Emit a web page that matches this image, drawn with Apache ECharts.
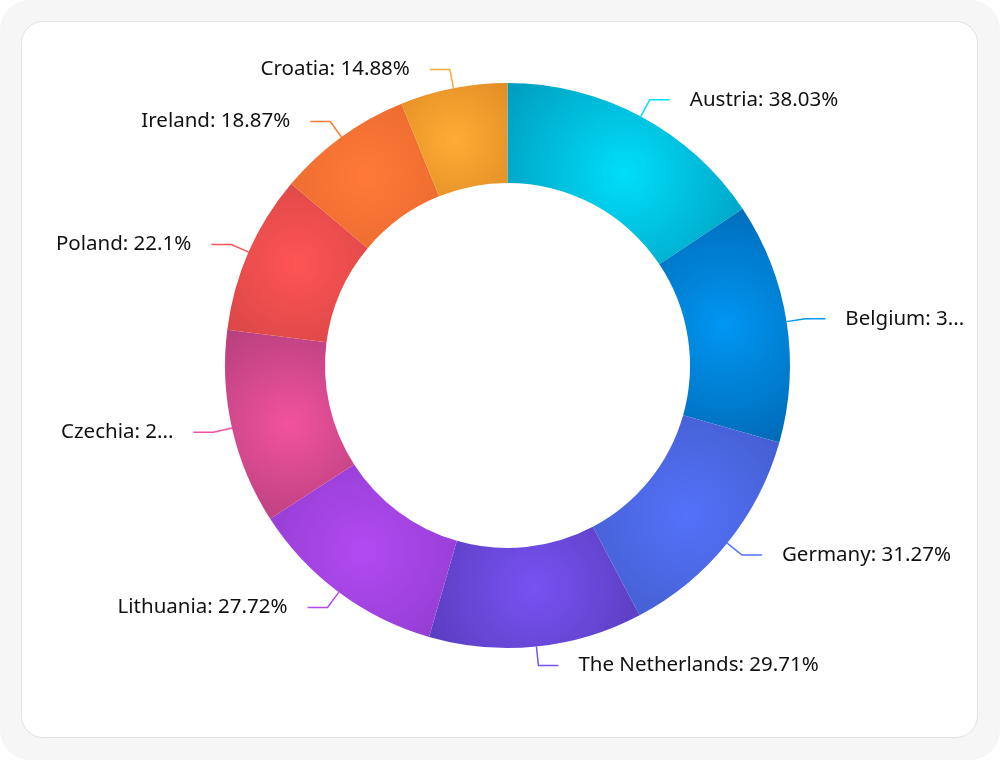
<!DOCTYPE html>
<html>
<head>
<meta charset="utf-8">
<script src="https://cdn.jsdelivr.net/npm/echarts@6/dist/echarts.min.js"></script>
<style>
  html, body { margin: 0; padding: 0; background: #ffffff; }
  #frame { position: absolute; left: 0; top: 0; width: 1000px; height: 760px; background: #f6f6f6; border-radius: 30px; }
  #panel { position: absolute; left: 21px; top: 21px; width: 955px; height: 715px; background: #ffffff; border: 1.5px solid #e2e2e2; border-radius: 22px; }
  #chart { position: absolute; left: 0; top: 0; width: 1000px; height: 760px; }
</style>
</head>
<body>
<div id="frame"></div>
<div id="panel"></div>
<div id="chart"></div>
<script>
const countries = ['Austria', 'Belgium', 'Germany', 'The Netherlands', 'Lithuania', 'Czechia', 'Poland', 'Ireland', 'Croatia'];
const values = [38.03, 33.41, 31.27, 29.71, 27.72, 27.08, 22.1, 18.87, 14.88];
const baseColors = ['#00def9', '#0096f3', '#5472fa', '#7852f2', '#b24af3', '#f2529f', '#ff5454', '#ff7a38', '#ffac36'];
const edgeColors = ['#0090b4', '#006cb8', '#3d55bc', '#5a3ec0', '#8638c2', '#b03e7a', '#cc4242', '#e0622a', '#d88420'];

const data = countries.map((name, i) => ({
  name: name,
  value: values[i],
  itemStyle: {
    color: {
      type: 'radial', x: 0.5, y: 0.5, r: 0.95,
      colorStops: [
        { offset: 0, color: baseColors[i] },
        { offset: 1, color: edgeColors[i] }
      ]
    }
  },
  labelLine: { lineStyle: { color: baseColors[i], width: 1.5 } }
}));

const chart = echarts.init(document.getElementById('chart'));
const L = 45, T = 40;
chart.setOption({
  animation: false,
  series: [{
    type: 'pie',
    left: L, right: 19, top: T, bottom: 40,
    center: [507.5 - L, 365.5 - T],
    radius: [182.5, 282.5],
    startAngle: 90,
    clockwise: true,
    data: data,
    label: {
      show: true,
      formatter: '{b}: {c}%',
      fontFamily: 'Noto Sans',
      fontSize: 20.5,
      color: '#111111',
      padding: [6, 0, 0, 0],
      distanceToLabelLine: 20
    },
    labelLine: { show: true, length: 19, length2: 20 },
    emphasis: { disabled: true }
  }]
});
</script>
</body>
</html>
